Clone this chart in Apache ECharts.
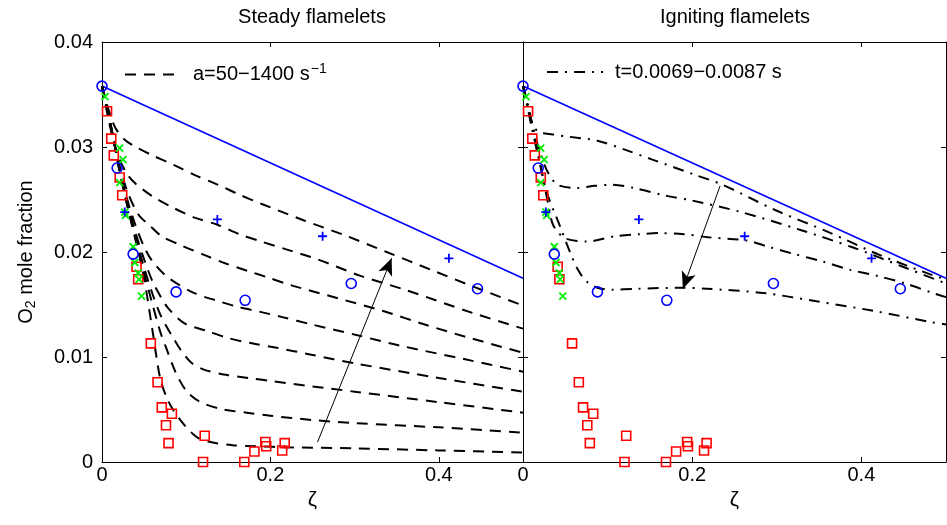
<!DOCTYPE html>
<html>
<head>
<meta charset="utf-8">
<title>O2 mole fraction – steady and igniting flamelets</title>
<script src="https://cdn.jsdelivr.net/npm/echarts@6/dist/echarts.min.js"></script>
<style>
  html, body { margin: 0; padding: 0; background: #fff; }
  #chart { width: 947px; height: 525px; }
</style>
</head>
<body>
<div id="chart"></div>
<script>
// ---- measured points (zeta, O2 mole fraction) ----
const blueCircles = [[0, 0.0358], [0.018, 0.0280], [0.037, 0.0198], [0.088, 0.0162], [0.170, 0.0154], [0.296, 0.0170], [0.446, 0.0165]];
const bluePluses = [[0.027, 0.0238], [0.137, 0.0231], [0.262, 0.0215], [0.412, 0.0194]];
const greenCrosses = [[0.0036, 0.0348], [0.021, 0.0299], [0.025, 0.0288], [0.021, 0.0266], [0.027, 0.0238], [0.028, 0.0235],
  [0.037, 0.0205], [0.039, 0.0190], [0.043, 0.0180], [0.044, 0.0174], [0.047, 0.0158]];
const redSquares = [[0.006, 0.0334], [0.011, 0.0308], [0.014, 0.0292], [0.021, 0.0271], [0.024, 0.0254], [0.041, 0.0186],
  [0.043, 0.0174], [0.058, 0.0113], [0.066, 0.0076], [0.071, 0.0052], [0.083, 0.0046], [0.076, 0.0035], [0.079, 0.0018],
  [0.122, 0.0025], [0.120, 0.0000], [0.169, 0.0000], [0.181, 0.0010], [0.194, 0.0019], [0.195, 0.0015], [0.217, 0.0018], [0.214, 0.0011]];

// mixing line between the two streams
const mixingLine = [[0, 0.0358], [0.5, 0.0175]];

// ---- steady flamelets, a = 50 ... 1400 1/s ----
const steadyA = [[0, 0.0358], [0.008, 0.0335], [0.016, 0.0318], [0.027, 0.0307], [0.04, 0.0300], [0.06, 0.0292], [0.085, 0.0283],
  [0.111, 0.0273], [0.138, 0.0264], [0.162, 0.0255], [0.189, 0.0246], [0.24, 0.0230], [0.288, 0.0216], [0.338, 0.0200],
  [0.391, 0.0183], [0.441, 0.0167], [0.5, 0.0149]];
const steadyB = [[0, 0.0358], [0.01, 0.0318], [0.02, 0.0290], [0.03, 0.0274], [0.04, 0.0265], [0.06, 0.0253], [0.085, 0.0242],
  [0.109, 0.0233], [0.137, 0.0226], [0.163, 0.0217], [0.189, 0.0210], [0.217, 0.0203], [0.256, 0.0193], [0.308, 0.0177],
  [0.36, 0.0164], [0.44, 0.0142], [0.5, 0.0127]];
const steadyC = [[0, 0.0358], [0.01, 0.0320], [0.02, 0.0285], [0.03, 0.0258], [0.043, 0.0236], [0.057, 0.0225], [0.071, 0.0215],
  [0.095, 0.0206], [0.122, 0.0197], [0.147, 0.0189], [0.173, 0.0182], [0.196, 0.0176], [0.226, 0.0168], [0.28, 0.0156],
  [0.333, 0.0144], [0.387, 0.0130], [0.433, 0.0119], [0.5, 0.0104]];
const steadyD = [[0, 0.0358], [0.01, 0.0321], [0.02, 0.0283], [0.03, 0.0250], [0.04, 0.0225], [0.05, 0.0205], [0.06, 0.0191],
  [0.078, 0.0176], [0.109, 0.0161], [0.135, 0.0154], [0.16, 0.0148], [0.188, 0.0143], [0.214, 0.0138], [0.249, 0.0131],
  [0.302, 0.0121], [0.353, 0.0111], [0.43, 0.0098], [0.5, 0.0086]];
const steadyE = [[0, 0.0358], [0.01, 0.0322], [0.02, 0.0282], [0.03, 0.0248], [0.04, 0.0218], [0.05, 0.0193], [0.06, 0.0172],
  [0.07, 0.0157], [0.079, 0.0146], [0.098, 0.0132], [0.124, 0.0125], [0.15, 0.0118], [0.178, 0.0113], [0.206, 0.0109],
  [0.25, 0.0102], [0.3, 0.0094], [0.4, 0.0080], [0.5, 0.0067]];
const steadyF = [[0, 0.0358], [0.01, 0.0322], [0.02, 0.0281], [0.03, 0.0246], [0.04, 0.0214], [0.05, 0.0185], [0.06, 0.0160],
  [0.07, 0.0139], [0.084, 0.0119], [0.095, 0.0105], [0.107, 0.0094], [0.121, 0.0088], [0.147, 0.0083], [0.174, 0.0080],
  [0.202, 0.0077], [0.25, 0.0072], [0.3, 0.0067], [0.4, 0.0057], [0.5, 0.0047]];
const steadyG = [[0, 0.0358], [0.01, 0.0323], [0.02, 0.0280], [0.03, 0.0244], [0.04, 0.0211], [0.05, 0.0180], [0.06, 0.0150],
  [0.07, 0.0122], [0.077, 0.0107], [0.084, 0.0092], [0.09, 0.0081], [0.101, 0.0067], [0.117, 0.0057], [0.144, 0.0050],
  [0.172, 0.0047], [0.2, 0.0044], [0.25, 0.0040], [0.3, 0.0037], [0.4, 0.0033], [0.5, 0.0028]];
const steadyH = [[0, 0.0358], [0.01, 0.0322], [0.02, 0.0282], [0.03, 0.0245], [0.04, 0.0212], [0.05, 0.0175], [0.06, 0.0125],
  [0.069, 0.0080], [0.077, 0.0061], [0.085, 0.0049], [0.095, 0.0038], [0.105, 0.0029], [0.114, 0.0023], [0.129, 0.0019],
  [0.155, 0.0016], [0.183, 0.0015], [0.222, 0.0014], [0.3, 0.0013], [0.4, 0.0011], [0.5, 0.0009]];
const steadyCurves = [steadyA, steadyB, steadyC, steadyD, steadyE, steadyF, steadyG, steadyH];

// ---- igniting flamelets, t = 0.0069 ... 0.0087 s ----
const ignite1 = [[0, 0.0358], [0.006, 0.0340], [0.012, 0.0320], [0.02, 0.0314], [0.035, 0.0312], [0.052, 0.0310], [0.088, 0.0306],
  [0.122, 0.0297], [0.153, 0.0288], [0.205, 0.0273], [0.236, 0.0264], [0.298, 0.0240], [0.361, 0.0219], [0.422, 0.0197],
  [0.484, 0.0178], [0.5, 0.0174]];
const ignite2 = [[0, 0.0358], [0.01, 0.0325], [0.02, 0.0295], [0.03, 0.0275], [0.041, 0.0264], [0.064, 0.0261], [0.085, 0.0263],
  [0.105, 0.0264], [0.131, 0.0261], [0.167, 0.0254], [0.2, 0.0249], [0.258, 0.0238], [0.328, 0.0221], [0.391, 0.0204],
  [0.452, 0.0185], [0.5, 0.0170]];
const ignite3 = [[0, 0.0358], [0.01, 0.0322], [0.02, 0.0285], [0.03, 0.0245], [0.036, 0.0225], [0.05, 0.0213], [0.076, 0.0210],
  [0.109, 0.0215], [0.138, 0.0217], [0.162, 0.0218], [0.19, 0.0217], [0.219, 0.0214], [0.264, 0.0211], [0.29, 0.0205],
  [0.321, 0.0198], [0.354, 0.0191], [0.387, 0.0183], [0.42, 0.0177], [0.452, 0.0170], [0.484, 0.0161], [0.5, 0.0157]];
const ignite4 = [[0, 0.0358], [0.01, 0.0320], [0.02, 0.0284], [0.028, 0.0257], [0.043, 0.0226], [0.056, 0.0199], [0.065, 0.0183],
  [0.075, 0.0172], [0.088, 0.0166], [0.105, 0.0164], [0.134, 0.0165], [0.189, 0.0166], [0.217, 0.0165], [0.284, 0.0161],
  [0.347, 0.0153], [0.414, 0.0144], [0.484, 0.0133], [0.5, 0.0131]];
const igniteCurves = [ignite1, ignite2, ignite3, ignite4];

// arrows showing the trend of each family (start -> tip)
const steadyArrow = [[0.256, 0.0019], [0.344, 0.0194]];
const igniteArrow = [[0.233, 0.0263], [0.189, 0.0165]];

// axis settings
const zetaRange = [0, 0.5];
const o2Range = [0, 0.04];
const zetaStep = 0.2;
const o2Step = 0.01;

const panelTitles = ['Steady flamelets', 'Igniting flamelets'];
const legendTexts = ['a=50\u22121400 s{sup|\u22121}', 't=0.0069\u22120.0087 s'];

// ---- styling ----
const FONT = '"Liberation Sans", Arial, Helvetica, sans-serif';
const BLACK = '#000';
const DASHED = [11, 8];
const DASHDOT = [11, 7, 2, 7];

const chart = echarts.init(document.getElementById('chart'), null, { renderer: 'canvas' });

function xAxisFor(grid, bottom) {
  return {
    type: 'value', gridIndex: grid, position: bottom ? 'bottom' : 'top',
    min: zetaRange[0], max: zetaRange[1], interval: zetaStep,
    axisLine: { show: true, onZero: false, lineStyle: { color: BLACK, width: 1 } },
    axisTick: { show: true, inside: true, length: 5, lineStyle: { color: BLACK } },
    axisLabel: { show: bottom, showMaxLabel: false, margin: 3, color: BLACK, fontSize: 20, fontFamily: FONT },
    splitLine: { show: false },
    name: bottom ? '\u03b6' : '', nameLocation: 'middle', nameGap: 27,
    nameTextStyle: { color: BLACK, fontSize: 21, fontFamily: FONT }
  };
}
function yAxisFor(grid, left, labelled) {
  return {
    type: 'value', gridIndex: grid, position: left ? 'left' : 'right',
    min: o2Range[0], max: o2Range[1], interval: o2Step,
    axisLine: { show: true, onZero: false, lineStyle: { color: BLACK, width: 1 } },
    axisTick: { show: true, inside: true, length: 5, lineStyle: { color: BLACK } },
    axisLabel: { show: labelled, margin: 9, color: BLACK, fontSize: 20, fontFamily: FONT },
    splitLine: { show: false },
    name: labelled ? 'O{sub|2} mole fraction' : '', nameLocation: 'middle', nameGap: 64, nameRotate: 90,
    nameTextStyle: {
      color: BLACK, fontSize: 20, fontFamily: FONT,
      rich: { sub: { fontSize: 14, fontFamily: FONT, color: BLACK, padding: [10, 0, 0, 0] } }
    }
  };
}

function curveSeries(name, data, grid, dash) {
  return {
    name: name, type: 'line', xAxisIndex: grid * 2, yAxisIndex: grid * 2, data: data,
    symbol: 'none', showSymbol: false, smooth: 0.3, silent: true, z: 3,
    itemStyle: { color: BLACK },
    lineStyle: { color: BLACK, width: 2, type: dash }
  };
}
function markerSeries(data, grid, symbol, size, color, width) {
  return {
    type: 'scatter', xAxisIndex: grid * 2, yAxisIndex: grid * 2, data: data,
    symbol: symbol, symbolSize: size, silent: true, z: 4,
    itemStyle: { color: 'none', borderColor: color, borderWidth: width, opacity: 1 }
  };
}
function arrowSeries(pts, grid, curveness) {
  return {
    type: 'line', xAxisIndex: grid * 2, yAxisIndex: grid * 2, data: [], silent: true, z: 5,
    markLine: {
      silent: true, symbol: ['none', 'arrow'], symbolSize: [11, 17],
      label: { show: false },
      lineStyle: { color: BLACK, width: 1, type: 'solid', curveness: curveness },
      itemStyle: { color: BLACK },
      emphasis: { disabled: true },
      animation: false,
      data: [[{ coord: pts[0] }, { coord: pts[1] }]]
    }
  };
}

const series = [];
[0, 1].forEach(function (g) {
  series.push({
    type: 'line', xAxisIndex: g * 2, yAxisIndex: g * 2, data: mixingLine,
    symbol: 'none', silent: true, z: 2, lineStyle: { color: '#0000ff', width: 1.6 }
  });
  series.push(markerSeries(redSquares, g, 'rect', 9, '#ff0000', 1.6));
  series.push(markerSeries(greenCrosses, g, 'path://M0,0L10,10M10,0L0,10', 7, '#00ee00', 1.8));
  series.push(markerSeries(bluePluses, g, 'path://M5,0L5,10M0,5L10,5', 9, '#0000ff', 1.8));
  series.push(markerSeries(blueCircles, g, 'circle', 10, '#0000ff', 1.6));
});
steadyCurves.forEach(function (c) { series.push(curveSeries('steady', c, 0, DASHED)); });
igniteCurves.forEach(function (c) { series.push(curveSeries('igniting', c, 1, DASHDOT)); });
series.push(arrowSeries(steadyArrow, 0, -0.06));
series.push(arrowSeries(igniteArrow, 1, 0));

function legendFor(name, left, text) {
  return {
    data: [name], left: left, top: 62, orient: 'horizontal', selectedMode: false,
    itemWidth: 56, itemHeight: 14, padding: 0,
    itemStyle: { opacity: 0, borderWidth: 0 },
    formatter: function () { return text; },
    textStyle: {
      color: BLACK, fontSize: 20, fontFamily: FONT, padding: [0, 0, 0, 7],
      rich: { sup: { fontSize: 14, fontFamily: FONT, color: BLACK, padding: [0, 0, 11, 1] } }
    }
  };
}

chart.setOption({
  animation: false,
  backgroundColor: '#fff',
  grid: [
    { left: 102, top: 42, width: 421, height: 420, show: false, containLabel: false },
    { left: 523, top: 42, width: 423, height: 420, show: false, containLabel: false }
  ],
  xAxis: [xAxisFor(0, true), xAxisFor(0, false), xAxisFor(1, true), xAxisFor(1, false)],
  yAxis: [yAxisFor(0, true, true), yAxisFor(0, false, false), yAxisFor(1, true, false), yAxisFor(1, false, false)],
  legend: [legendFor('steady', 124, legendTexts[0]), legendFor('igniting', 546, legendTexts[1])],
  graphic: [
    { type: 'text', x: 312, y: 7, style: { text: panelTitles[0], fill: BLACK, font: '20px ' + FONT, textAlign: 'center', textVerticalAlign: 'top' } },
    { type: 'text', x: 735, y: 7, style: { text: panelTitles[1], fill: BLACK, font: '20px ' + FONT, textAlign: 'center', textVerticalAlign: 'top' } }
  ],
  series: series
});
</script>
</body>
</html>
